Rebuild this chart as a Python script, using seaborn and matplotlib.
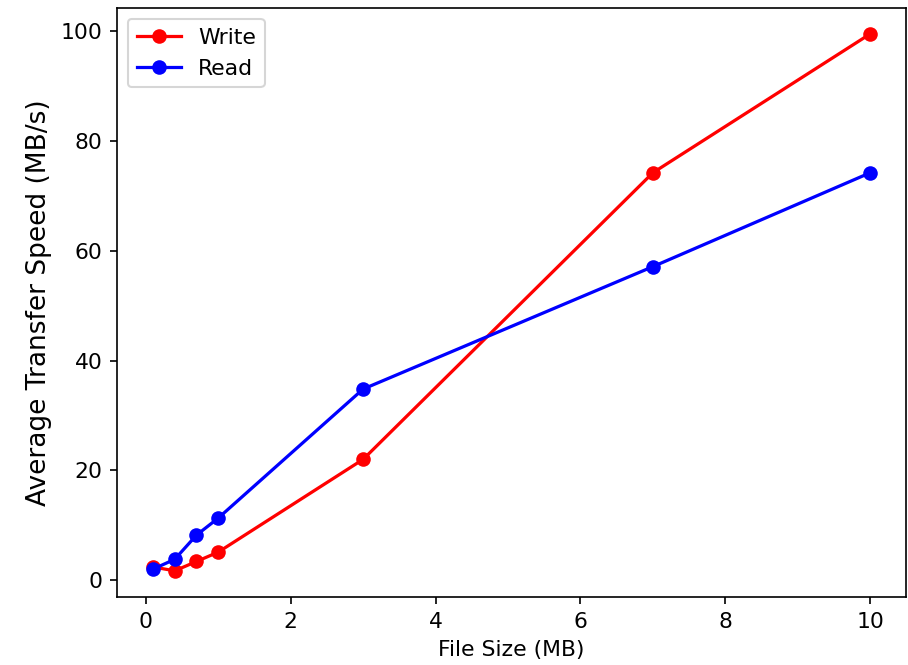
import matplotlib
matplotlib.use("Agg")
import matplotlib.pyplot as plt
import seaborn as sns
import pandas as pd

file_sizes = [0.1, 0.4, 0.7, 1.0, 3.0, 7.0, 10.0]
write_speed = [2.4, 1.7, 3.4, 5.1, 22.0, 74.2, 99.5]
read_speed = [2.0, 3.8, 8.2, 11.3, 34.8, 57.1, 74.2]

df = pd.DataFrame({
    "size": file_sizes * 2,
    "speed": write_speed + read_speed,
    "kind": ["Write"] * len(file_sizes) + ["Read"] * len(file_sizes),
})

plt.rcParams['font.family'] = ['DejaVu Sans']
fig, ax = plt.subplots(figsize=(908/150, 665/150), dpi=150)
fig.subplots_adjust(left=0.129, right=0.998, top=0.988, bottom=0.102)

sns.lineplot(data=df, x="size", y="speed", hue="kind",
             palette={"Write": "red", "Read": "blue"},
             marker="o", markersize=7, markeredgewidth=0, linewidth=1.55, ax=ax)

ax.set_xlabel("File Size (MB)", fontsize=10.5)
ax.set_ylabel("Average Transfer Speed (MB/s)", fontsize=12.7)
ax.tick_params(labelsize=10.5)
ax.set_xticks([0, 2, 4, 6, 8, 10])
ax.set_yticks([0, 20, 40, 60, 80, 100])
ax.set_xlim(-0.395, 10.495)
ax.set_ylim(-3.1, 104.2)
leg = ax.legend(loc="upper left", fontsize=10.5)
leg.set_title(None)

fig.savefig("out.png", dpi=150)
